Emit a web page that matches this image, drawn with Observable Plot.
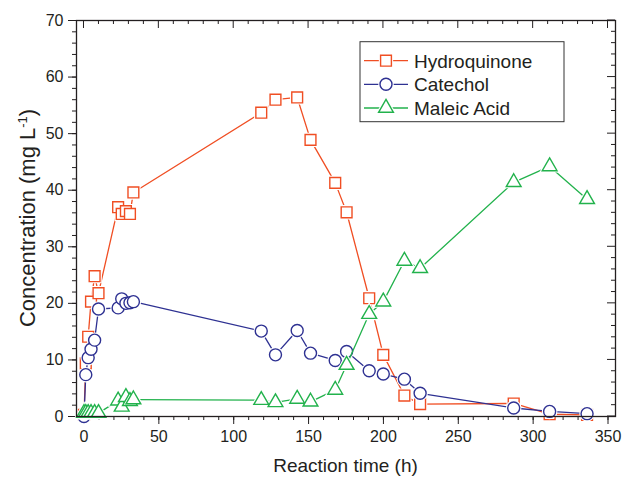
<!DOCTYPE html>
<html><head><meta charset="utf-8">
<script src="https://cdn.jsdelivr.net/npm/d3@7"></script>
<script src="https://cdn.jsdelivr.net/npm/@observablehq/plot@0.6"></script>
<style>html,body{margin:0;padding:0;background:#fff}#chart svg{display:block}</style>
</head><body><div id="chart"></div>
<script>
// Sampling times (h)
const hours = [0, 1.2, 2.8, 4.7, 7.1, 9.7, 22.8, 25.2, 28, 30.7, 33, 118.4, 127.9, 142.4, 151.3, 167.8, 175.4, 190.5, 199.9, 214, 224.5, 287, 311, 336];
// Concentrations (mg L-1)
const hydroquinone = [0.3, 9.4, 14.1, 20.3, 24.8, 21.8, 37.0, 35.8, 36.3, 35.8, 39.6, 53.7, 56.0, 56.4, 48.9, 41.3, 36.1, 20.9, 10.9, 3.7, 2.2, 2.3, 0.4, 0.3];
const catechol = [0, 7.4, 10.4, 11.9, 13.5, 19.0, 19.2, 20.8, 20.0, 20.1, 20.3, 15.1, 10.9, 15.2, 11.2, 9.9, 11.5, 8.1, 7.5, 6.6, 4.1, 1.5, 0.9, 0.5];
const maleicAcid = [0.6, 0.6, 0.6, 0.6, 0.6, 0.6, 2.8, 1.7, 3.4, 2.7, 3.0, 2.9, 2.5, 3.1, 2.6, 4.7, 9.1, 18.1, 20.3, 27.5, 26.2, 41.4, 44.2, 38.4];

const seriesNames = ["Hydroquinone", "Catechol", "Maleic Acid"];
const seriesValues = [hydroquinone, catechol, maleicAcid];
const seriesColors = ["#F04E23", "#2E3192", "#22B24C"];
const seriesSymbols = ["square", "circle", "triangle"];
const seriesR = [6.1, 6.0, 5.5];

const xMajor = d3.range(0, 351, 50);
const xMinor = d3.range(0, 351, 10);
const yMajor = d3.range(0, 71, 10);
const yMinor = d3.range(0, 71, 2);

const ink = "#231f20";
const font = "'Liberation Sans', Arial, Helvetica, sans-serif";

const rows = [];
seriesValues.forEach((vals, s) => vals.forEach((v, i) => rows.push({series: seriesNames[s], t: hours[i], c: v})));

const marks = [];
seriesNames.forEach((name, s) => {
  const d = rows.filter(r => r.series === name);
  marks.push(Plot.line(d, {x: "t", y: "c", stroke: seriesColors[s], strokeWidth: 1.3}));
  marks.push(Plot.dot(d, {x: "t", y: "c", symbol: seriesSymbols[s], r: seriesR[s], fill: "white", stroke: "white", strokeWidth: 3.5}));
  marks.push(Plot.dot(d, {x: "t", y: "c", symbol: seriesSymbols[s], r: seriesR[s], fill: "white", stroke: seriesColors[s], strokeWidth: 1.4}));
});

const W = 622, H = 477, mL = 76, mR = 7, mT = 20, mB = 61;

const plot = Plot.plot({
  width: W, height: H,
  marginLeft: mL, marginRight: mR, marginTop: mT, marginBottom: mB,
  style: {fontFamily: font, fontSize: "16px", color: ink, background: "white", overflow: "visible"},
  x: {domain: [-5, 355]},
  y: {domain: [0, 70]},
  marks: [
    Plot.axisX({ticks: xMinor, tickSize: 4, tickFormat: () => "", label: null, stroke: ink}),
    Plot.axisX({ticks: xMajor, tickSize: 8, tickPadding: 6, label: null, stroke: ink, fill: ink, fontSize: 16}),
    Plot.axisY({ticks: yMinor, tickSize: 4, tickFormat: () => "", label: null, stroke: ink}),
    Plot.axisY({ticks: yMajor, tickSize: 8, tickPadding: 5, label: null, stroke: ink, fill: ink, fontSize: 16}),
    ...marks,
    Plot.frame({stroke: ink, strokeWidth: 1.3})
  ]
});

document.getElementById("chart").appendChild(plot);

const svg = d3.select(plot);
const xs = plot.scale("x"), ys = plot.scale("y");
const pLeft = mL, pRight = W - mR, pTop = mT, pBottom = H - mB;

// inward ticks on top and right spines
const g = svg.append("g").attr("stroke", ink).attr("stroke-width", 1);
xMinor.forEach(v => {
  const px = xs.apply(v), len = v % 50 === 0 ? 8 : 4;
  g.append("line").attr("x1", px).attr("x2", px).attr("y1", pTop).attr("y2", pTop + len);
});
yMinor.forEach(v => {
  const py = ys.apply(v), len = v % 10 === 0 ? 8 : 4;
  g.append("line").attr("x1", pRight).attr("x2", pRight - len).attr("y1", py).attr("y2", py);
});

// axis titles
svg.append("text").attr("x", (pLeft + pRight) / 2).attr("y", 472)
  .attr("text-anchor", "middle").attr("fill", ink).style("font-size", "19px").style("font-family", font)
  .text("Reaction time (h)");

const yt = svg.append("text").attr("transform", `translate(35,${(pTop + pBottom) / 2}) rotate(-90)`)
  .attr("text-anchor", "middle").attr("fill", ink).style("font-size", "22px").style("font-family", font);
yt.append("tspan").text("Concentration (mg L");
yt.append("tspan").attr("dy", -8).style("font-size", "13px").text("-1");
yt.append("tspan").attr("dy", 8).text(")");

// legend
const lg = svg.append("g");
lg.append("rect").attr("x", 360).attr("y", 41.7).attr("width", 204).attr("height", 80)
  .attr("fill", "white").attr("stroke", "#333").attr("stroke-width", 1);
const rowsY = [60.7, 84.3, 108];
seriesNames.forEach((name, s) => {
  const y = rowsY[s];
  lg.append("line").attr("x1", 364).attr("x2", 408).attr("y1", y).attr("y2", y)
    .attr("stroke", seriesColors[s]).attr("stroke-width", 1.3);
  const sym = seriesSymbols[s] === "square" ? d3.symbolSquare : seriesSymbols[s] === "circle" ? d3.symbolCircle : d3.symbolTriangle;
  const size = Math.PI * seriesR[s] * seriesR[s];
  lg.append("path").attr("d", d3.symbol(sym, size)()).attr("transform", `translate(386,${y})`)
    .attr("fill", "white").attr("stroke", "white").attr("stroke-width", 3.5);
  lg.append("path").attr("d", d3.symbol(sym, size)()).attr("transform", `translate(386,${y})`)
    .attr("fill", "white").attr("stroke", seriesColors[s]).attr("stroke-width", 1.4);
  lg.append("text").attr("x", 414).attr("y", y + 7).attr("fill", ink).attr("text-anchor", "start")
    .style("font-size", "19px").style("font-family", font).text(name);
});
</script>
</body></html>
